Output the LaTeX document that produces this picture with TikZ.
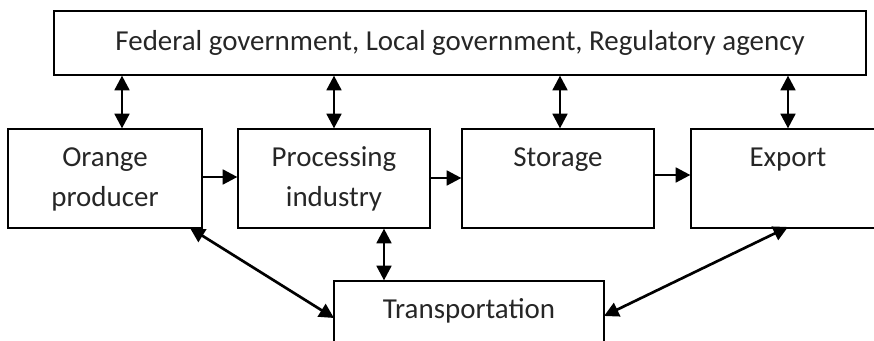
\documentclass[tikz,border=0pt]{standalone}
\usepackage{fontspec}
\setmainfont{Carlito}
\usetikzlibrary{arrows.meta}
\begin{document}
\begin{tikzpicture}[x=0.75pt,y=-0.75pt,
  box/.style={draw=black,line width=0.9pt,inner sep=0pt,align=center,
    font=\fontsize{21.7}{30}\selectfont,text=black!85},
  tip/.tip={Triangle[length=11pt,width=11pt]},
  arr/.style={line width=2pt,tip-tip},
  harr/.style={line width=2pt,-tip}]
\clip (0,0) rectangle (874,341);
\node[box,minimum width=609pt,minimum height=48pt] (gov) at (460,43) {Federal government, Local government, Regulatory agency};
\node[box,minimum width=145.5pt,minimum height=74.25pt] (orange) at (105,178.5) {\strut Orange\\\strut producer};
\node[box,minimum width=144pt,minimum height=74.25pt] (proc) at (334,178.5) {\strut Processing\\\strut industry};
\node[box,minimum width=144pt,minimum height=74.25pt] (stor) at (558,178.5) {\strut Storage\\\strut};
\node[box,minimum width=145.5pt,minimum height=74.25pt] (exp) at (788,178.5) {\strut Export\\\strut};
\node[box,minimum width=202.5pt,minimum height=74.25pt] (trans) at (469,330.5) {\strut Transportation\\\strut};
\draw[arr] (122,0 |- gov.south) -- (122,0 |- orange.north);
\draw[arr] (334,0 |- gov.south) -- (334,0 |- proc.north);
\draw[arr] (560,0 |- gov.south) -- (560,0 |- stor.north);
\draw[arr] (788,0 |- gov.south) -- (788,0 |- exp.north);
\draw[harr] (orange.east |- 0,177) -- (proc.west |- 0,177);
\draw[harr] (proc.east |- 0,178) -- (stor.west |- 0,178);
\draw[harr] (stor.east |- 0,175) -- (exp.west |- 0,175);
\draw[arr] (384,0 |- proc.south) -- (384,0 |- trans.north);
\coordinate (oa) at (190,228);
\coordinate (ob) at (334,318);
\coordinate (ea) at (788,227);
\coordinate (eb) at (604,316);
\draw[arr] (oa) -- (ob);
\draw[arr] (ea) -- (eb);
\end{tikzpicture}
\end{document}
